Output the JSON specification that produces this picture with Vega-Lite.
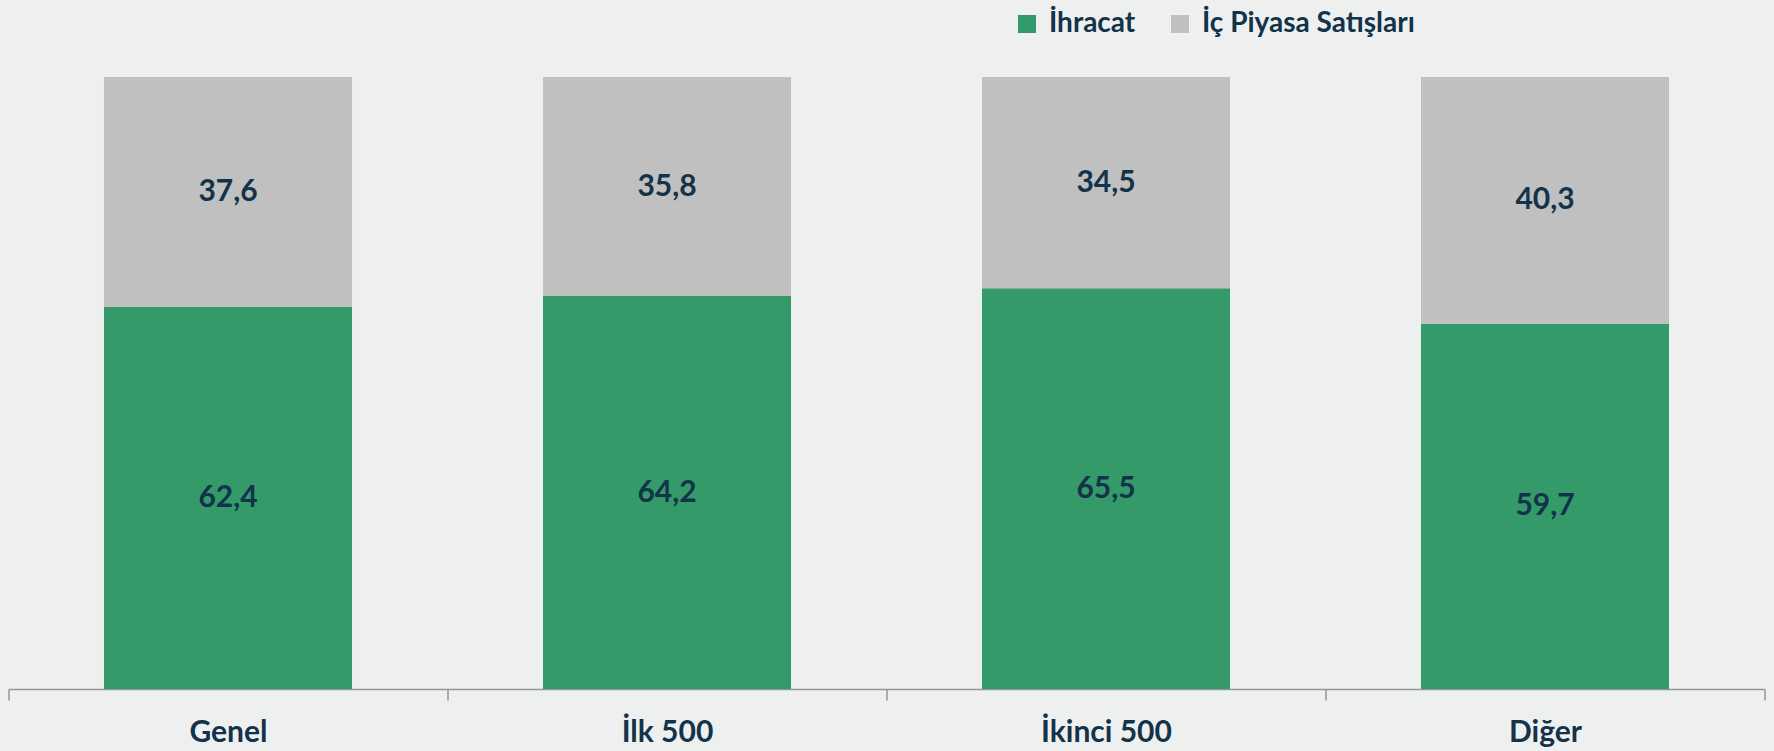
{
  "$schema": "https://vega.github.io/schema/vega-lite/v6.json",
  "width": 1756,
  "height": 612,
  "autosize": {"type": "none"},
  "padding": {"left": 8.5, "top": 77, "right": 9.5, "bottom": 62},
  "background": "#eef0ef",
  "config": {
    "view": {"stroke": null},
    "locale": {"number": {"decimal": ",", "thousands": ".", "grouping": [3], "currency": ["", " TL"]}},
    "font": "Lato"
  },
  "data": {
    "values": [
      {"grup": "Genel", "seri": "İhracat", "deger": 62.4},
      {"grup": "Genel", "seri": "İç Piyasa Satışları", "deger": 37.6},
      {"grup": "İlk 500", "seri": "İhracat", "deger": 64.2},
      {"grup": "İlk 500", "seri": "İç Piyasa Satışları", "deger": 35.8},
      {"grup": "İkinci 500", "seri": "İhracat", "deger": 65.5},
      {"grup": "İkinci 500", "seri": "İç Piyasa Satışları", "deger": 34.5},
      {"grup": "Diğer", "seri": "İhracat", "deger": 59.7},
      {"grup": "Diğer", "seri": "İç Piyasa Satışları", "deger": 40.3}
    ]
  },
  "encoding": {
    "x": {
      "field": "grup",
      "type": "nominal",
      "sort": ["Genel", "İlk 500", "İkinci 500", "Diğer"],
      "scale": {"paddingInner": 0, "paddingOuter": 0},
      "axis": {
        "title": null,
        "labelAngle": 0,
        "tickBand": "extent",
        "domainColor": "#969696",
        "domainWidth": 1.5,
        "tickColor": "#969696",
        "tickWidth": 1.5,
        "tickSize": 11,
        "labelFont": "Lato",
        "labelFontSize": 30,
        "labelFontWeight": "bold",
        "labelColor": "#12334a",
        "labelBaseline": "alphabetic",
        "labelPadding": 41
      }
    }
  },
  "layer": [
    {
      "mark": {"type": "bar", "width": {"band": 0.565}},
      "encoding": {
        "y": {
          "field": "deger",
          "type": "quantitative",
          "stack": "zero",
          "scale": {"domain": [0, 100], "nice": false},
          "axis": null
        },
        "color": {
          "field": "seri",
          "type": "nominal",
          "sort": ["İhracat", "İç Piyasa Satışları"],
          "scale": {"domain": ["İhracat", "İç Piyasa Satışları"], "range": ["#349a69", "#c0c0c0"]},
          "legend": {
            "title": null,
            "orient": "none",
            "direction": "horizontal",
            "legendX": 1004.5,
            "legendY": -67,
            "padding": 0,
            "symbolType": "square",
            "symbolSize": 324,
            "symbolStrokeWidth": 0,
            "labelFont": "Lato",
            "labelFontSize": 28,
            "labelFontWeight": "bold",
            "labelColor": "#12334a",
            "labelOffset": 8,
            "labelLimit": 500,
            "columnPadding": 30
          }
        },
        "order": {"field": "seri", "sort": "ascending"}
      }
    },
    {
      "mark": {"type": "text", "font": "Lato", "fontSize": 30, "fontWeight": "bold", "color": "#12334a", "baseline": "middle", "align": "center"},
      "encoding": {
        "y": {"field": "deger", "type": "quantitative", "stack": "zero", "bandPosition": 0.5},
        "detail": {"field": "seri"},
        "order": {"field": "seri", "sort": "ascending"},
        "text": {"field": "deger", "type": "quantitative", "format": ".1f"}
      }
    }
  ]
}
